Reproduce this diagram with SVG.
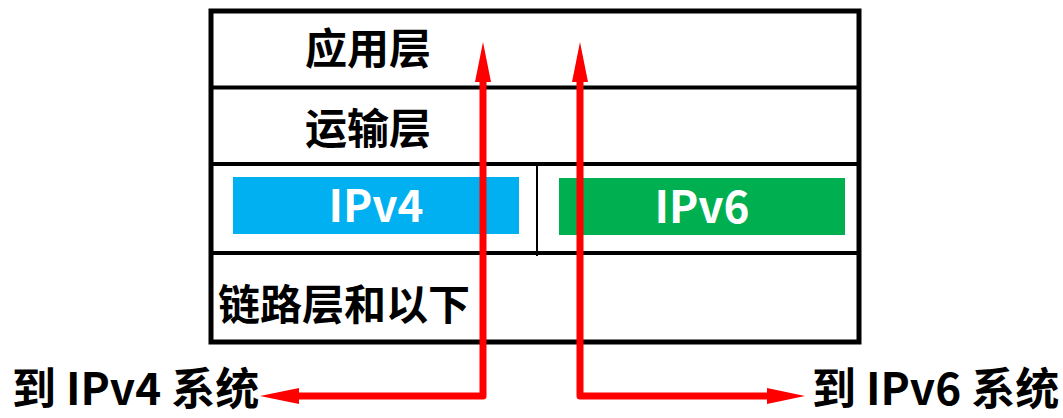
<svg xmlns="http://www.w3.org/2000/svg" width="1063" height="418" viewBox="0 0 1063 418">
<style>
.t{font-family:"Noto Sans CJK SC","Noto Sans",sans-serif;font-weight:bold;font-size:42px;fill:#000}
.b{font-family:"Noto Sans CJK SC","Noto Sans",sans-serif;font-weight:bold;font-size:44px;fill:#000}
.w{font-family:"Noto Sans CJK SC","Noto Sans",sans-serif;font-weight:bold;font-size:44px;fill:#fff}
.sep{stroke:#000;stroke-width:4}
.arr{fill:none;stroke:#f00;stroke-width:7;stroke-linejoin:round}
.head{fill:#f00}
</style>
<rect width="1063" height="418" fill="#fff"/>
<g id="stack">
<rect x="211" y="11" width="648" height="331" fill="#fff" stroke="#000" stroke-width="5"/>
<line class="sep" x1="211" y1="87.5" x2="859" y2="87.5"/>
<line class="sep" x1="211" y1="164" x2="859" y2="164"/>
<line class="sep" x1="211" y1="253" x2="859" y2="253"/>
<line x1="537" y1="164" x2="537" y2="256" stroke="#000" stroke-width="2"/>
</g>
<g id="app"><text class="t" x="305" y="64">应用层</text></g>
<g id="transport"><text class="t" x="305" y="144">运输层</text></g>
<g id="ipv4"><rect x="233" y="177" width="286" height="57" fill="#00B0F0"/><text class="w" x="376" y="222" text-anchor="middle">IPv4</text></g>
<g id="ipv6"><rect x="559" y="178" width="286" height="57" fill="#00B050"/><text class="w" x="702" y="223" text-anchor="middle">IPv6</text></g>
<g id="link"><text class="t" x="218" y="320">链路层和以下</text></g>
<g id="to4"><text class="b" x="12" y="405">到 IPv4 系统</text></g>
<g id="to6"><text class="b" x="812" y="405">到 IPv6 系统</text></g>
<g id="connectors">
<polyline class="arr" points="298,396 483,396 483,80"/>
<polygon class="head" points="483,42 475,82 491,82"/>
<polygon class="head" points="260,396 299,388 299,404"/>
<polyline class="arr" points="580,80 580,396 768,396"/>
<polygon class="head" points="580,42 572,82 588,82"/>
<polygon class="head" points="805,396 767,388 767,404"/>
</g>
</svg>
